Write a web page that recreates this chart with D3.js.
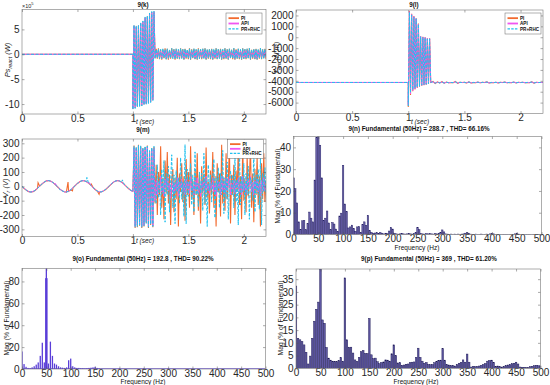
<!DOCTYPE html>
<html>
<head>
<meta charset="utf-8">
<script src="https://cdn.jsdelivr.net/npm/d3@7"></script>
<style>
  body { margin: 0; background: #fff; }
  text { font-family: "Liberation Sans", Arial, sans-serif; }
</style>
</head>
<body>
<div id="chart"></div>
<script>
// ---------- Data ----------
const seriesNames = ["PI", "API", "PR+RHC"];

// 9(k) reactive power (x10^5 W): burst 1.00-1.20 s (0.01 s), tail 1.21-2.20 s (0.01 s)
const kFlat = 0;
const kBurstPI  = [-11, 5.8, -10.8, 5.6, -10.5, 5.8, -10.4, 6.3, -10.3, 6.6, -10.1, 7.4, -10, 7.6, -9.8, 8.2, -9.6, 8.5, -9.2, 8.6, -0.8];
const kBurstAPI = [-10.9, 5.7, -10.7, 5.5, -10.4, 5.7, -10.3, 6.2, -10.2, 6.5, -10.0, 7.3, -9.9, 7.5, -9.7, 8.1, -9.5, 8.4, -9.1, 8.5, -0.7];
const kBurstPRC = [-11.1, 5.9, -10.9, 5.7, -10.6, 5.9, -10.5, 6.4, -10.4, 6.7, -10.2, 7.5, -10.1, 7.7, -9.9, 8.3, -9.7, 8.6, -9.3, 8.7, -0.9];
const kTailPI = [
  1.1,-0.9,1.2,-1.0,0.9,-1.1,1.0,-0.8,1.2,-1.0, 1.1,-1.1,0.8,-0.9,1.2,-0.7,1.0,-1.1,1.1,-0.9,
  0.9,-1.0,1.2,-0.8,1.0,-1.1,1.1,-0.9,0.8,-1.0, 1.2,-1.1,1.0,-0.8,1.1,-1.0,0.9,-1.1,1.2,-0.9,
  1.0,-1.0,1.1,-0.8,1.2,-1.1,0.9,-0.9,1.0,-1.0, 1.1,-1.1,0.8,-0.9,1.2,-1.0,1.0,-0.8,1.1,-1.1,
  0.9,-1.0,1.2,-0.9,1.0,-1.1,1.1,-0.8,0.9,-1.0, 1.2,-1.1,1.0,-0.9,1.1,-1.0,0.8,-1.1,1.2,-0.9,
  1.0,-1.0,1.1,-0.8,1.2,-1.1,0.9,-0.9,1.0,-1.0, 1.1,-1.1,0.9,-0.9,1.2,-1.0,1.0,-0.8,1.1,-0.9];
const kTailAPI = [
  0.7,-0.6,0.8,-0.7,0.6,-0.8,0.7,-0.5,0.8,-0.7, 0.8,-0.8,0.6,-0.6,0.8,-0.5,0.7,-0.8,0.8,-0.6,
  0.6,-0.7,0.8,-0.6,0.7,-0.8,0.8,-0.6,0.6,-0.7, 0.8,-0.8,0.7,-0.6,0.8,-0.7,0.6,-0.8,0.8,-0.6,
  0.7,-0.7,0.8,-0.6,0.8,-0.8,0.6,-0.6,0.7,-0.7, 0.8,-0.8,0.6,-0.6,0.8,-0.7,0.7,-0.6,0.8,-0.8,
  0.6,-0.7,0.8,-0.6,0.7,-0.8,0.8,-0.6,0.6,-0.7, 0.8,-0.8,0.7,-0.6,0.8,-0.7,0.6,-0.8,0.8,-0.6,
  0.7,-0.7,0.8,-0.6,0.8,-0.8,0.6,-0.6,0.7,-0.7, 0.8,-0.8,0.6,-0.6,0.8,-0.7,0.7,-0.6,0.8,-0.6];
const kTailPRC = [
  1.0,-0.8,1.1,-0.9,1.0,-0.9,1.2,-0.8,1.0,-1.0, 1.1,-0.9,1.0,-0.8,1.2,-0.9,1.0,-1.0,1.1,-0.8,
  1.0,-0.9,1.2,-0.9,1.0,-1.0,1.1,-0.8,1.0,-0.9, 1.1,-1.0,1.0,-0.8,1.2,-0.9,1.0,-1.0,1.1,-0.9,
  1.0,-0.8,1.1,-0.9,1.2,-1.0,1.0,-0.8,1.1,-0.9, 1.0,-1.0,1.1,-0.8,1.2,-0.9,1.0,-0.9,1.1,-1.0,
  1.0,-0.8,1.2,-0.9,1.0,-1.0,1.1,-0.8,1.0,-0.9, 1.2,-1.0,1.0,-0.9,1.1,-0.8,1.0,-1.0,1.2,-0.9,
  1.0,-0.8,1.1,-0.9,1.2,-1.0,1.0,-0.8,1.1,-0.9, 1.0,-1.0,1.1,-0.8,1.2,-0.9,1.0,-0.9,1.1,-0.8];

// 9(l) electromagnetic torque (N.m): burst 1.00-1.20 s (0.01 s), tail 1.22-2.20 s (0.02 s)
const lFlat = -4150;
const lBurstPI  = [-6400, 2400, -5300, 2150, -4950, 1950, -4800, 1750, -4650, 1250, -4550, 100, -4450, 50, -4400, 0, -4350, -100, -4300, -100, -4150];
const lBurstAPI = [-6200, 2350, -5200, 2100, -4900, 1900, -4750, 1700, -4600, 1200, -4500, 80, -4420, 20, -4380, -20, -4330, -120, -4280, -120, -4150];
const lBurstPRC = [-6300, 2300, -5100, 2050, -4850, 1850, -4700, 1700, -4600, 1200, -4500, 50, -4400, 0, -4350, -50, -4320, -150, -4280, -150, -4150];
const lTailPI = [
  -4050,-4250,-4100,-4200,-4080,-4220,-4120,-4180,-4150,-4170, -4060,-4230,-4130,-4160,-4140,-4190,-4100,-4200,-4150,-4170,
  -4120,-4180,-4140,-4160,-4100,-4200,-4150,-4170,-4130,-4190, -4140,-4160,-4120,-4180,-4150,-4170,-4110,-4200,-4140,-4160,
  -4130,-4180,-4150,-4170,-4100,-4210,-4140,-4160,-4150,-4150];
const lTailAPI = [
  -4100,-4200,-4120,-4190,-4110,-4200,-4140,-4170,-4150,-4160, -4100,-4210,-4140,-4160,-4150,-4170,-4120,-4190,-4150,-4160,
  -4130,-4170,-4150,-4160,-4120,-4190,-4150,-4160,-4140,-4180, -4150,-4160,-4130,-4170,-4150,-4160,-4130,-4180,-4150,-4160,
  -4140,-4170,-4150,-4160,-4120,-4190,-4150,-4160,-4150,-4150];
const lTailPRC = [
  -4080,-4230,-4110,-4200,-4100,-4210,-4130,-4180,-4150,-4170, -4090,-4220,-4140,-4160,-4140,-4180,-4110,-4200,-4150,-4160,
  -4130,-4180,-4140,-4160,-4110,-4200,-4150,-4170,-4140,-4180, -4150,-4160,-4130,-4180,-4150,-4160,-4120,-4190,-4150,-4160,
  -4140,-4180,-4150,-4160,-4110,-4200,-4150,-4160,-4150,-4150];

// 9(m) rotor voltage (V): 0-1.0 s every 0.02 s, spikes, burst 1.00-1.20 s, tail 1.21-2.20 s
const mBasePI = [0,-15,-28,-37,-40,-37,-27,-14,1,16,29,38,40,36,26,12,-3,-18,-30,-38,-40,-35,-24,-10,5,20,32,39,39,33,22,8,-7,-22,-34,-40,-38,-30,-18,-3,12,26,36,40,37,28,15,0,-15,-28,-36];
const mBaseAPI = [0,-14,-27,-36,-40,-36,-27,-13,2,17,29,38,40,35,25,11,-4,-18,-30,-38,-40,-34,-23,-9,6,20,32,39,39,32,21,7,-8,-23,-34,-40,-37,-29,-17,-2,13,27,36,40,36,27,14,-1,-16,-28,-36];
const mBasePRC = [0,-15,-28,-37,-40,-37,-27,-14,1,16,29,38,40,36,26,12,-3,-18,-30,-38,-40,-35,-24,-10,5,20,32,39,39,33,22,8,-7,-22,-34,-40,-38,-30,-18,-3,12,26,36,40,37,28,15,0,-15,-28,-36];
const mSpikesPI  = [[0.145, 25], [0.415, 30], [0.435, -28], [0.455, -32], [0.625, 15], [0.695, -55], [0.755, -22]];
const mSpikesAPI = [[0.30, 20], [0.61, 25]];
const mSpikesPRC = [[0.345, -28], [0.585, 62], [0.905, 45]];
const mBurstPI  = [-36, 285, -290, 270, -285, 290, -275, 280, -290, 265, -280, 275, -255, 285, -290, 245, -270, 265, -285, 275, -120];
const mBurstAPI = [-36, 270, -280, 260, -270, 280, -265, 270, -280, 255, -270, 265, -245, 275, -280, 235, -260, 255, -275, 265, -100];
const mBurstPRC = [-36, 280, -285, 275, -280, 285, -270, 285, -285, 270, -275, 280, -260, 280, -285, 250, -265, 270, -280, 280, -110];
const mTailPI = [
  150,-200,100,-60,280,-150,60,-230,180,-50, 240,-120,80,-270,50,120,-180,60,-90,200,
  -280,90,-40,160,-110,70,-240,190,-60,100, -150,280,-90,40,-200,120,-60,230,-170,80,
  -260,140,-50,90,-130,270,-80,30,-190,110, -60,240,-150,70,-280,160,-40,90,-210,290,
  -120,60,-170,230,-90,40,280,-260,80,-60, 150,-200,110,-40,260,-130,70,-230,290,-100,
  60,-180,210,-70,40,280,-150,90,-250,120, -60,200,-130,70,-280,160,-90,230,-110,40];
const mTailAPI = [
  40,-60,30,-20,70,-40,20,-70,50,-10, 60,-30,20,-80,10,40,-50,20,-30,60,
  -70,30,-10,50,-40,20,-60,50,-20,30, -50,70,-30,10,-60,40,-20,60,-50,20,
  -70,40,-10,30,-40,70,-20,10,-50,30, -20,60,-40,20,-70,40,-10,30,-60,70,
  -30,20,-50,60,-30,10,70,-60,20,-20, 40,-50,30,-10,60,-40,20,-60,70,-30,
  20,-50,50,-20,10,70,-40,30,-60,40, -20,50,-40,20,-70,40,-30,60,-30,10];
const mTailPRC = [
  -120,150,-80,60,-200,120,-50,180,-250,90, -60,140,-180,40,220,-150,80,-260,110,-40,
  60,-120,200,-90,30,-210,290,-260,120,-70, 40,160,-130,80,-180,240,-60,20,-140,100,
  -50,90,-170,230,-120,60,-280,150,-30,80, -110,40,190,-220,70,-40,130,-150,90,-60,
  250,-190,60,-90,170,-230,40,110,-60,80, -150,210,-110,50,-270,290,-130,70,-40,160,
  -200,90,-60,140,-230,60,30,-100,240,-180, 80,-50,120,-160,200,-270,90,-40,130,-60];

// 9(n) spectrum, bins every 50/14 Hz from 0 to 500 Hz
const nMag = [
  26, 21, 14.5, 5.8, 2.4, 6.3, 6.5, 2.2, 5, 10.3, 7.5, 5.8, 25, 44.5, 45,
  41, 26, 6.5, 7.5, 10.8, 5.3, 2.2, 5.5, 4.8, 2.5, 1.5, 8.5, 9.8, 31.8,
  14, 10.5, 3, 3.5, 4.3, 2.8, 1.5, 3.5, 3.6, 1.0, 4.5, 5.8, 4.2, 8.8,
  1.8, 1.0, 0.6, 0.7, 0.8, 0.5, 0.9, 0.6, 0.3, 0.6, 0.4, 1.6, 3.2, 2.5, 0.6,
  0.3, 0.2, 0.3, 0.5, 0.3, 0.2, 0.3, 0.4, 0.3, 0.2, 0.4, 0.9,
  3.2, 2.2, 0.5, 0.3, 0.2, 0.4, 0.3, 0.5, 0.3, 0.2, 0.4, 0.3, 0.6, 1.0,
  2.1, 1.2, 0.3, 0.2, 0.1, 0.2, 0.1, 0.2, 0.1, 0.2, 0.1, 0.2, 0.3, 0.6,
  0.9, 0.6, 0.2, 0.1, 0.1, 0.2, 0.1, 0.1, 0.2, 0.1, 0.1, 0.2, 0.1, 0.3,
  0.5, 0.3, 0.1, 0.1, 0.1, 0.1, 0.1, 0.1, 0.1, 0.1, 0.1, 0.1, 0.1, 0.3,
  0.5, 0.2, 0.1, 0.1, 0.1, 0.1, 0.1, 0.1, 0.1, 0.1, 0.1, 0.1, 0.1, 0.1, 0.1];

// 9(o) spectrum, explicit bins
const oFreq = [0, 4.2, 8.3, 12.5, 16.7, 20.8, 25, 29.2, 33.3, 37.5, 41.7, 45.8, 48.8, 50, 51.2, 54.2, 58.3, 62.5, 66.7, 70.8,
  75, 79.2, 83.3, 87.5, 91.7, 95.8, 100, 104.2, 108.3, 112.5, 116.7, 120.8, 125, 129.2, 133.3, 137.5, 141.7, 145.8, 150, 154.2,
  158.3, 200, 250, 300];
const oMag = [16, 4.5, 2, 1, 0.8, 1.5, 2.5, 4, 6, 12, 24, 6, 83, 92, 83, 5, 25, 12, 5, 4,
  2.5, 1.5, 1.2, 1, 1.5, 8, 9.5, 2.5, 1.5, 1, 1, 0.8, 0.8, 0.6, 0.8, 1, 1.2, 1.5, 2, 1,
  0.5, 0.6, 0.6, 0.6];

// 9(p) spectrum, bins every 50/12 Hz from 0 to 500 Hz
const pMag = [
  32.3, 11.8, 11.2, 10.5, 9.2, 6.3, 1.7, 4.8, 11.8, 18.5, 23.2, 26, 39,
  19, 17.7, 8.2, 4.0, 3.2, 2.8, 2.7, 2.6, 3.0, 4.2, 2.8, 35.5,
  11.2, 8.3, 8.3, 6.0, 3.3, 2.7, 4.3, 6.5, 7.0, 5.8, 5.8, 19.6,
  5.3, 3.8, 4.0, 2.6, 1.8, 2.3, 2.5, 3.3, 3.2, 2.8, 5.7, 9.2,
  5.0, 2.1, 2.2, 1.2, 1.3, 1.6, 1.7, 2.2, 2.4, 2.5, 4.3, 7.9,
  4.3, 2.8, 2.0, 2.3, 1.5, 1.4, 1.5, 2.2, 2.7, 3.1, 3.2, 7.7,
  3.2, 1.4, 1.3, 1.0, 1.1, 0.9, 1.5, 2.0, 2.3, 3.3, 2.4, 5.6,
  2.4, 0.5, 0.8, 0.6, 0.7, 0.9, 1.2, 1.5, 1.9, 2.8, 3.1, 3.2,
  2.3, 0.8, 0.9, 0.6, 0.5, 0.7, 1.0, 1.3, 1.5, 1.8, 2.0, 2.4,
  1.7, 0.5, 0.4, 0.4, 0.3, 0.3, 0.6, 0.8, 1.0, 1.2, 1.0, 0.9];

const timeTicks = [0, 0.5, 1, 1.5, 2];
const freqTicks = d3.range(0, 501, 50);

// ---------- Styles ----------
const colors = ["#f26a2e", "#f055f0", "#22c0ee"];
const font = "'Liberation Sans', Arial, sans-serif";

const svg = d3.select("#chart").append("svg").attr("width", 550).attr("height", 385);
let clipN = 0;

function panel(box, xDom, yDom, xTicks, yTicks) {
  const x = d3.scaleLinear().domain(xDom).range([box.l, box.r]);
  const y = d3.scaleLinear().domain(yDom).range([box.b, box.t]);
  const g = svg.append("g");
  const id = "clip" + clipN++;
  g.append("clipPath").attr("id", id).append("rect")
    .attr("x", box.l).attr("y", box.t).attr("width", box.r - box.l).attr("height", box.b - box.t);
  const plot = g.append("g").attr("clip-path", `url(#${id})`);
  const fmt = (d) => String(d);
  const ax = g.append("g").attr("font-size", 5.5).attr("font-family", font);
  ax.append("g").attr("transform", `translate(0,${box.b})`)
    .call(d3.axisBottom(x).tickValues(xTicks).tickFormat(fmt).tickSizeInner(-2.5).tickSizeOuter(0).tickPadding(0.6));
  ax.append("g").attr("transform", `translate(0,${box.t})`)
    .call(d3.axisTop(x).tickValues(xTicks).tickFormat("").tickSizeInner(-2.5).tickSizeOuter(0));
  ax.append("g").attr("transform", `translate(${box.l},0)`)
    .call(d3.axisLeft(y).tickValues(yTicks).tickFormat(fmt).tickSizeInner(-2.5).tickSizeOuter(0).tickPadding(2.5));
  ax.append("g").attr("transform", `translate(${box.r},0)`)
    .call(d3.axisRight(y).tickValues(yTicks).tickFormat("").tickSizeInner(-2.5).tickSizeOuter(0));
  ax.selectAll(".domain").remove();
  ax.selectAll(".tick line").attr("stroke", "#555").attr("stroke-width", 0.5);
  ax.selectAll(".tick text").attr("fill", "#262626");
  g.append("rect")
    .attr("x", box.l).attr("y", box.t).attr("width", box.r - box.l).attr("height", box.b - box.t)
    .attr("fill", "none").attr("stroke", "#777").attr("stroke-width", 0.6);
  return { x, y, g, plot };
}

function title(txt, cx, cy) {
  svg.append("text").attr("x", cx).attr("y", cy).attr("text-anchor", "middle")
    .attr("font-size", 6.3).attr("font-weight", "bold").attr("fill", "#111").text(txt);
}

function yLabel(cx, cy, parts, italic, size) {
  const t = svg.append("text").attr("transform", `translate(${cx},${cy}) rotate(-90)`)
    .attr("text-anchor", "middle").attr("font-size", size).attr("fill", "#111")
    .attr("font-style", italic ? "italic" : null);
  parts.forEach((p) => {
    t.append("tspan").attr("font-size", p.sub ? size * 0.7 : null).attr("dy", p.dy || 0).text(p.s);
  });
}

function timeLabel(x0, yb) {
  svg.append("text").attr("x", x0).attr("y", yb).attr("font-size", 6.5)
    .attr("font-style", "italic").attr("fill", "#111").text("t (sec)");
}

function freqLabel(cx, yb) {
  svg.append("text").attr("x", cx).attr("y", yb).attr("text-anchor", "middle")
    .attr("font-size", 6.5).attr("fill", "#111").text("Frequency (Hz)");
}

function buildSeries(segments) {
  return segments.flatMap((s) => s.t.map((t, i) => [t, s.v[i]]));
}

function drawLines(p, allSeries) {
  const line = d3.line().x((d) => p.x(d[0])).y((d) => p.y(d[1]));
  allSeries.forEach((pts, i) => {
    p.plot.append("path").datum(pts).attr("d", line).attr("fill", "none")
      .attr("stroke", colors[i])
      .attr("stroke-width", i === 0 ? 1.1 : 1.0)
      .attr("stroke-dasharray", i === 2 ? "3,1.5" : null);
  });
}

function legend(lx, ty, h) {
  const g = svg.append("g");
  g.append("rect").attr("x", lx).attr("y", ty).attr("width", 36).attr("height", h)
    .attr("fill", "#fff").attr("stroke", "#666").attr("stroke-width", 0.5);
  const step = (h - 5) / 3;
  seriesNames.forEach((name, i) => {
    const yy = ty + 3.5 + step * i + step / 2 - 1;
    g.append("line").attr("x1", lx + 2.5).attr("x2", lx + 13).attr("y1", yy).attr("y2", yy)
      .attr("stroke", colors[i]).attr("stroke-width", i === 2 ? 1.3 : 1.8)
      .attr("stroke-dasharray", i === 2 ? "2.5,1.2" : null);
    g.append("text").attr("x", lx + 15).attr("y", yy + 1.7).attr("font-size", 4.6)
      .attr("font-weight", "bold").attr("fill", "#111").text(name);
  });
}

function drawBars(p, freqs, mags, bw, fill, stroke) {
  p.plot.selectAll("rect.bar").data(mags.map((m, i) => [freqs[i], m])).join("rect")
    .attr("class", "bar")
    .attr("x", (d) => p.x(d[0]) - bw / 2)
    .attr("y", (d) => p.y(d[1]))
    .attr("width", bw)
    .attr("height", (d) => p.y(0) - p.y(d[1]))
    .attr("fill", fill)
    .attr("stroke", stroke)
    .attr("stroke-width", stroke ? 0.45 : 0);
}

// ---------- Time grids ----------
const tBurst = d3.range(21).map((i) => 1 + i * 0.01);
const tTail = d3.range(100).map((i) => 1.21 + i * 0.01);
const tTailL = d3.range(50).map((i) => 1.22 + i * 0.02);
const tBase = d3.range(51).map((i) => i * 0.02);

// ---------- 9(k) ----------
const pk = panel({ l: 22, r: 266, t: 9.5, b: 114 }, [0, 2.2], [-12, 9], timeTicks, [-10, -5, 0, 5]);
drawLines(pk, [
  [kBurstPI, kTailPI], [kBurstAPI, kTailAPI], [kBurstPRC, kTailPRC]
].map(([b, tl]) => buildSeries([{ t: [0, 1], v: [kFlat, kFlat] }, { t: tBurst, v: b }, { t: tTail, v: tl }])));
legend(226, 13, 21);
title("9(k)", 143, 7);
svg.append("text").attr("x", 22).attr("y", 7.5).attr("font-size", 5.5).attr("fill", "#262626")
  .text("\u00d710").append("tspan").attr("dy", -2.5).attr("font-size", 4).text("5");
yLabel(10, 60, [{ s: "Ps" }, { s: "react", sub: true, dy: 1.5 }, { s: " (W)", dy: -1.5 }], true, 7.5);
timeLabel(136, 124);

// ---------- 9(l) ----------
const pl = panel({ l: 296, r: 543, t: 10, b: 113.5 }, [0, 2.2], [-7000, 2500], timeTicks, d3.range(-6000, 2001, 1000));
drawLines(pl, [
  [lBurstPI, lTailPI], [lBurstAPI, lTailAPI], [lBurstPRC, lTailPRC]
].map(([b, tl]) => buildSeries([{ t: [0, 1], v: [lFlat, lFlat] }, { t: tBurst, v: b }, { t: tTailL, v: tl }])));
legend(505, 13, 21);
title("9(l)", 414, 7);
yLabel(279, 58, [{ s: "T" }, { s: "em", sub: true, dy: 1.5 }, { s: " (N.m)", dy: -1.5 }], true, 7.5);
timeLabel(411, 124);

// ---------- 9(m) ----------
const pm = panel({ l: 22, r: 266, t: 139, b: 236.5 }, [0, 2.2], [-350, 330], timeTicks, d3.range(-300, 301, 100));
drawLines(pm, [
  [mBasePI, mSpikesPI, mBurstPI, mTailPI],
  [mBaseAPI, mSpikesAPI, mBurstAPI, mTailAPI],
  [mBasePRC, mSpikesPRC, mBurstPRC, mTailPRC]
].map(([base, spikes, b, tl]) => {
  const early = tBase.map((t, i) => [t, base[i]]).concat(spikes).sort((a, c) => a[0] - c[0]);
  return early.concat(buildSeries([{ t: tBurst, v: b }, { t: tTail, v: tl }]));
}));
legend(227.5, 139.3, 19);
title("9(m)", 143, 131.5);
yLabel(8, 188, [{ s: "V" }, { s: "r", sub: true, dy: 1.5 }, { s: " (V)", dy: -1.5 }], true, 7.5);
timeLabel(136, 243);

// ---------- 9(n) ----------
const pn = panel({ l: 293.5, r: 541.5, t: 136.5, b: 234.5 }, [0, 500], [0, 45], freqTicks, [0, 10, 20, 30, 40]);
drawBars(pn, nMag.map((m, i) => i * 50 / 14), nMag, 1.45, "#6a62aa", "#1f1a60");
title("9(n) Fundamental (50Hz) = 288.7 , THD= 66.16%", 419, 131);
yLabel(280, 186, [{ s: "Mag (% of Fundamental)" }], false, 6.8);
freqLabel(417, 249.8);

// ---------- 9(o) ----------
const po = panel({ l: 22, r: 265.5, t: 268.3, b: 369 }, [0, 500], [0, 92], freqTicks, [0, 20, 40, 60, 80]);
po.plot.append("line").attr("x1", po.x(0)).attr("x2", po.x(500)).attr("y1", po.y(0) - 0.3).attr("y2", po.y(0) - 0.3)
  .attr("stroke", "#5a3ed8").attr("stroke-width", 0.8);
drawBars(po, oFreq, oMag, 1.3, "#5a3ed8", null);
title("9(o)  Fundamental (50Hz) = 192.8 , THD= 90.22%", 143, 261);
yLabel(9, 318, [{ s: "Mag (% of Fundamental)" }], false, 6.8);
freqLabel(143, 384);

// ---------- 9(p) ----------
const pp = panel({ l: 296, r: 540.5, t: 269, b: 368.3 }, [0, 500], [0, 39], freqTicks, d3.range(0, 36, 5));
drawBars(pp, pMag.map((m, i) => i * 50 / 12), pMag, 1.6, "#5e57a2", "#1a1652");
title("9(p)  Fundamental (50Hz) = 369 , THD= 61.20%", 429, 261);
yLabel(283, 318, [{ s: "Mag (% of Fundamental)" }], false, 6.8);
freqLabel(416, 384);
</script>
</body>
</html>
